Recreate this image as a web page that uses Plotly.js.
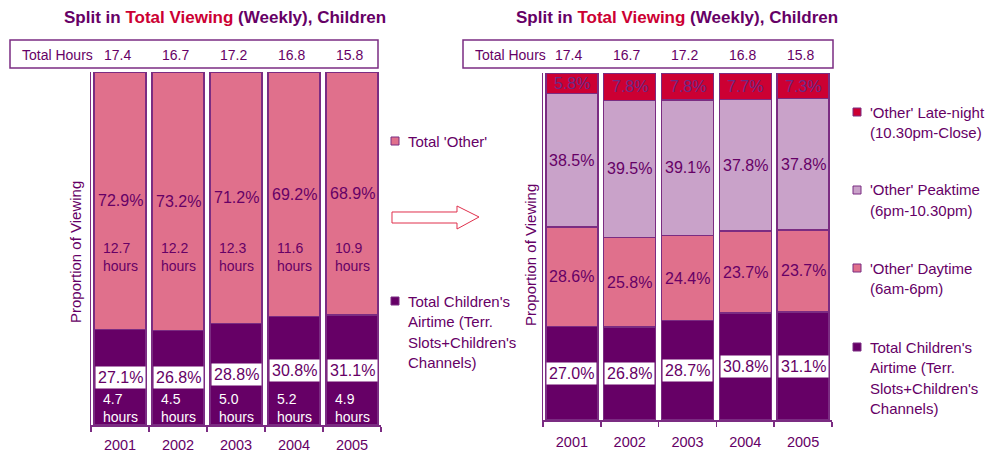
<!DOCTYPE html>
<html><head><meta charset="utf-8">
<script src="https://cdn.plot.ly/plotly-3.0.1.min.js"></script>
<style>html,body{margin:0;padding:0;background:#fff}#chart{width:993px;height:454px}</style>
</head><body><div id="chart"></div>
<script>
// ---- data ----
const years = ['2001','2002','2003','2004','2005'];
const totalHours = [17.4, 16.7, 17.2, 16.8, 15.8];
const leftChildPct = [27.1, 26.8, 28.8, 30.8, 31.1];
const leftOtherPct = [72.9, 73.2, 71.2, 69.2, 68.9];
const childHours = [4.7, 4.5, 5.0, 5.2, 4.9];
const otherHours = [12.7, 12.2, 12.3, 11.6, 10.9];
const rightChildPct = [27.0, 26.8, 28.7, 30.8, 31.1];
const daytimePct = [28.6, 25.8, 24.4, 23.7, 23.7];
const peaktimePct = [38.5, 39.5, 39.1, 37.8, 37.8];
const latenightPct = [5.8, 7.8, 7.8, 7.7, 7.3];
const titleText = "<b>Split in <span style='color:#CC0033'>Total Viewing</span> (Weekly), Children</b>";
const legendLeft = [["Total 'Other'"], ["Total Children's","Airtime (Terr.","Slots+Children's","Channels)"]];
const legendRight = [["'Other' Late-night","(10.30pm-Close)"],["'Other' Peaktime","(6pm-10.30pm)"],["'Other' Daytime","(6am-6pm)"],["Total Children's","Airtime (Terr.","Slots+Children's","Channels)"]];

// ---- styles ----
const W = 993, H = 454;
const px = x => x / W, py = y => 1 - y / H;
const FONT = 'Liberation Sans, Arial, sans-serif';
const PURPLE = '#660066', OUTLINE = '#7B2C82';
const C_CHILD = '#660066', C_DAY = '#E0708C', C_PEAK = '#C9A2C9', C_LATE = '#CC0033';

function barTrace(y, color, xa, ya) {
  return {type:'bar', x: years, y: y, xaxis: xa, yaxis: ya, showlegend:false, hoverinfo:'skip',
    marker:{color: color, line:{color: OUTLINE, width:1.5}}};
}
const data = [
  barTrace(leftChildPct, C_CHILD, 'x', 'y'),
  barTrace(leftOtherPct, C_DAY, 'x', 'y'),
  barTrace(rightChildPct, C_CHILD, 'x2', 'y2'),
  barTrace(daytimePct, C_DAY, 'x2', 'y2'),
  barTrace(peaktimePct, C_PEAK, 'x2', 'y2'),
  barTrace(latenightPct, C_LATE, 'x2', 'y2')
];

const ann = [];
function txt(o) { ann.push(Object.assign({showarrow:false, xanchor:'center', yanchor:'middle', font:{family:FONT, size:15, color:PURPLE}}, o)); }

// titles
[225, 677].forEach(cx => txt({xref:'paper', yref:'paper', x:px(cx), y:py(18), text:titleText, font:{family:FONT, size:17, color:PURPLE}}));
// y titles
[[75,252],[530,255]].forEach(p => txt({xref:'paper', yref:'paper', x:px(p[0]), y:py(p[1]), text:'Proportion of Viewing', textangle:-90, font:{family:FONT, size:15, color:PURPLE}}));
// total hours rows
[[20,'x'],[473,'x2']].forEach(p => {
  txt({xref:'paper', yref:'paper', x:px(p[0]), y:py(55), xanchor:'left', text:'Total Hours', font:{family:FONT, size:14, color:PURPLE}});
  years.forEach((yr,i) => txt({xref:p[1], yref:'paper', x:i, xshift:-3, y:py(55), text:totalHours[i].toFixed(1), font:{family:FONT, size:14, color:PURPLE}}));
});

// left chart labels
years.forEach((yr,i) => {
  txt({xref:'x', yref:'y', x:i, y:leftChildPct[i]/2, text:leftChildPct[i].toFixed(1)+'%', bgcolor:'#ffffff', borderpad:2, font:{family:FONT, size:16, color:PURPLE}});
  txt({xref:'x', yref:'y', x:i, y:leftChildPct[i] + leftOtherPct[i]/2, text:leftOtherPct[i].toFixed(1)+'%', font:{family:FONT, size:16, color:PURPLE}});
  txt({xref:'x', yref:'paper', x:i, y:py(257), align:'left', text:otherHours[i].toFixed(1)+'<br>hours', font:{family:FONT, size:14, color:PURPLE}});
  txt({xref:'x', yref:'paper', x:i, y:py(408), align:'left', text:childHours[i].toFixed(1)+'<br>hours', font:{family:FONT, size:14, color:'#ffffff'}});
});
// right chart labels
years.forEach((yr,i) => {
  let b = 0;
  txt({xref:'x2', yref:'y2', x:i, y:b + rightChildPct[i]/2, text:rightChildPct[i].toFixed(1)+'%', bgcolor:'#ffffff', borderpad:2, font:{family:FONT, size:16, color:PURPLE}});
  b += rightChildPct[i];
  txt({xref:'x2', yref:'y2', x:i, y:b + daytimePct[i]/2, text:daytimePct[i].toFixed(1)+'%', font:{family:FONT, size:16, color:PURPLE}});
  b += daytimePct[i];
  txt({xref:'x2', yref:'y2', x:i, y:b + peaktimePct[i]/2, text:peaktimePct[i].toFixed(1)+'%', font:{family:FONT, size:16, color:PURPLE}});
  b += peaktimePct[i];
  txt({xref:'x2', yref:'y2', x:i, y:b + latenightPct[i]/2, text:latenightPct[i].toFixed(1)+'%', font:{family:FONT, size:16, color:'#6B2A86'}});
});

// legends
const shapes = [];
function legend(groups, colors, sqx, tops) {
  groups.forEach((lines, g) => {
    const y0 = tops[g];
    shapes.push({type:'rect', xref:'paper', yref:'paper', x0:px(sqx), x1:px(sqx+8), y0:py(y0-4), y1:py(y0+4), fillcolor:colors[g], line:{color:OUTLINE, width:1}});
    lines.forEach((l, k) => txt({xref:'paper', yref:'paper', x:px(sqx+15), y:py(y0 + k*20.5), xanchor:'left', text:l, font:{family:FONT, size:15, color:PURPLE}}));
  });
}
legend(legendLeft, [C_DAY, C_CHILD], 391, [141, 301]);
legend(legendRight, [C_LATE, C_PEAK, C_DAY, C_CHILD], 853, [112, 190, 268, 347]);

// boxes
shapes.push({type:'rect', xref:'paper', yref:'paper', x0:px(10), x1:px(378), y0:py(40), y1:py(68), line:{color:OUTLINE, width:1.5}});
shapes.push({type:'rect', xref:'paper', yref:'paper', x0:px(463), x1:px(833), y0:py(40), y1:py(68), line:{color:OUTLINE, width:1.5}});
// arrow
const ap = [[392,212],[457,212],[457,206],[479,217],[457,229],[457,223],[392,223]];
shapes.push({type:'path', xref:'paper', yref:'paper', path:'M' + ap.map(p => px(p[0]).toFixed(5)+','+py(p[1]).toFixed(5)).join(' L') + ' Z', line:{color:'#E0304C', width:1}, fillcolor:'#ffffff'});

function xax(d, standoff) { return {domain:d, type:'category', range:[-0.5, 4.5], autorange:false, showgrid:false, zeroline:false, showline:true, linecolor:OUTLINE, linewidth:1.5,
  ticks:'outside', tickson:'boundaries', ticklen:5, tickcolor:OUTLINE, tickwidth:1.5, tickangle:0, ticklabelstandoff:standoff,
  tickfont:{family:FONT, size:14.5, color:PURPLE}, fixedrange:true}; }
function yax(d, anchor) { return {domain:d, range:[0,100], autorange:false, showgrid:false, zeroline:false, showline:true, linecolor:OUTLINE, linewidth:1.5,
  showticklabels:false, ticks:'', anchor:anchor, fixedrange:true}; }

const layout = {
  width:W, height:H, margin:{l:0, r:0, t:0, b:0}, paper_bgcolor:'#fff', plot_bgcolor:'#fff',
  barmode:'stack', bargap:0.1, font:{family:FONT, color:PURPLE},
  xaxis: Object.assign(xax([px(91), px(381)], 6), {anchor:'y'}),
  yaxis: yax([py(425), py(72)], 'x'),
  xaxis2: Object.assign(xax([px(543), px(832)], 8), {anchor:'y2'}),
  yaxis2: yax([py(420), py(73)], 'x2'),
  annotations: ann, shapes: shapes
};
Plotly.newPlot('chart', data, layout, {displayModeBar:false, staticPlot:true});
</script></body></html>
